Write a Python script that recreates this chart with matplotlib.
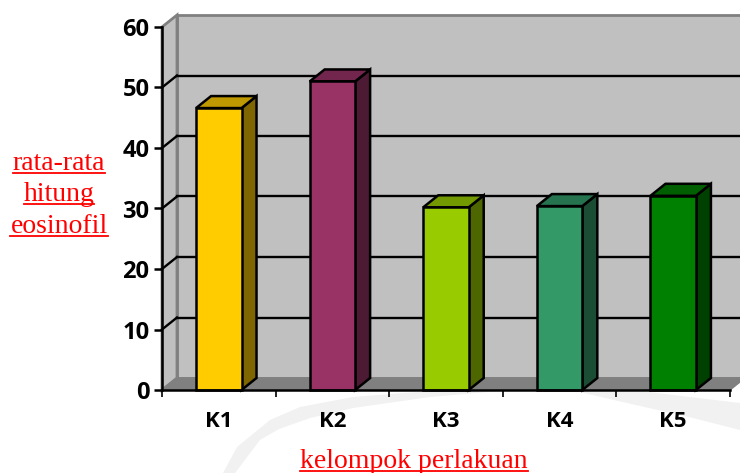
import matplotlib
matplotlib.use('Agg')
import matplotlib.pyplot as plt
from matplotlib.patches import Polygon
from matplotlib.lines import Line2D

groups = ['K1', 'K2', 'K3', 'K4', 'K5']
means = [46.6, 51.0, 30.2, 30.4, 32.1]
front_colors = ['#FFCC00', '#993366', '#99CC00', '#339966', '#008000']
top_colors = ['#BF9900', '#73264D', '#739900', '#267350', '#006000']
side_colors = ['#7F6600', '#4D1A33', '#4D6600', '#1A4D33', '#004000']
y_ticks = [0, 10, 20, 30, 40, 50, 60]

W, H = 740, 473
fig = plt.figure(figsize=(W / 100, H / 100), dpi=100)
ax = fig.add_axes([162 / W, (H - 390) / H, 568 / W, 363 / H])
ax.set_xlim(0, 5)
ax.set_ylim(0, 60)
ax.patch.set_visible(False)

# faint swoosh of the page background, in pixel positions from the top left
swoosh_left = [(223, 473), (237, 447), (270, 420), (300, 407), (353, 397), (430, 391), (500, 391),
               (430, 397), (353, 408), (310, 418), (279, 429), (260, 440), (235, 473)]
swoosh_right = [(575, 391), (640, 391), (740, 403), (740, 430), (693, 418), (627, 403)]
for pts in [swoosh_left, swoosh_right]:
    fig.add_artist(Polygon([(x / W, 1 - y / H) for x, y in pts], closed=True, facecolor='#F1F1F1',
                           edgecolor='none', transform=fig.transFigure, zorder=-1))

# depth of the pseudo 3D box, in data units
dx = 15 / (568 / 5)
dy = 12 / (363 / 60)
bar_w = 0.4


def poly(points, face, edge='black', lw=1.8, z=2):
    ax.add_patch(Polygon(points, closed=True, facecolor=face, edgecolor=edge,
                         linewidth=lw, clip_on=False, zorder=z, joinstyle='miter'))


# back wall, side wall, floor
poly([(dx, dy), (5 + dx, dy), (5 + dx, 60 + dy), (dx, 60 + dy)], '#C0C0C0', '#808080', 2.0, 1)
poly([(0, 0), (dx, dy), (dx, 60 + dy), (0, 60)], '#C0C0C0', '#808080', 2.0, 1)
poly([(0, 0), (5, 0), (5 + dx, dy), (dx, dy)], '#808080', '#808080', 1.0, 1.1)

for v in y_ticks[1:-1]:
    ax.plot([dx, 5 + dx], [v + dy, v + dy], color='black', lw=1.7, clip_on=False, zorder=1.5)
for v in y_ticks[1:-1]:
    ax.plot([0, dx], [v, v + dy], color='black', lw=1.7, clip_on=False, zorder=1.5)

for i, v in enumerate(means):
    x0 = i + 0.5 - bar_w / 2
    x1 = x0 + bar_w
    poly([(x1, 0), (x1 + dx, dy), (x1 + dx, v + dy), (x1, v)], side_colors[i])
    poly([(x0, v), (x1, v), (x1 + dx, v + dy), (x0 + dx, v + dy)], top_colors[i])
    poly([(x0, 0), (x1, 0), (x1, v), (x0, v)], front_colors[i])

for side in ['top', 'right']:
    ax.spines[side].set_visible(False)
for side in ['left', 'bottom']:
    ax.spines[side].set_linewidth(1.8)
    ax.spines[side].set_zorder(3)

ax.set_yticks(y_ticks)
ax.set_yticklabels([str(v) for v in y_ticks], fontfamily='Open Sans', fontweight='bold', fontsize=17)
ax.set_xticks(range(6))
ax.set_xticklabels([''] * 6)
ax.tick_params(axis='y', length=6, width=1.8, pad=3)
ax.tick_params(axis='x', length=5, width=1.2)
for i, g in enumerate(groups):
    ax.annotate(g, (i + 0.5, 0), xytext=(0, -23), textcoords='offset points', ha='center', va='center',
                fontfamily='Open Sans', fontweight='bold', fontsize=16)


def red_label(x, y, s):
    # matplotlib has no underline style, so the rule is drawn under the text
    t = fig.text(x / W, 1 - y / H, s, color='#FF0000', family='Liberation Serif',
                 fontsize=20, ha='center', va='baseline')
    box = t.get_window_extent(fig.canvas.get_renderer())
    yy = 1 - (y + 3) / H
    fig.add_artist(Line2D([box.x0 / W, box.x1 / W], [yy, yy], color='#FF0000', lw=1.3))


red_label(59, 170, 'rata-rata')
red_label(59, 201, 'hitung')
red_label(59, 233, 'eosinofil')
red_label(414, 468, 'kelompok perlakuan')

fig.savefig('out.png', dpi=100)
